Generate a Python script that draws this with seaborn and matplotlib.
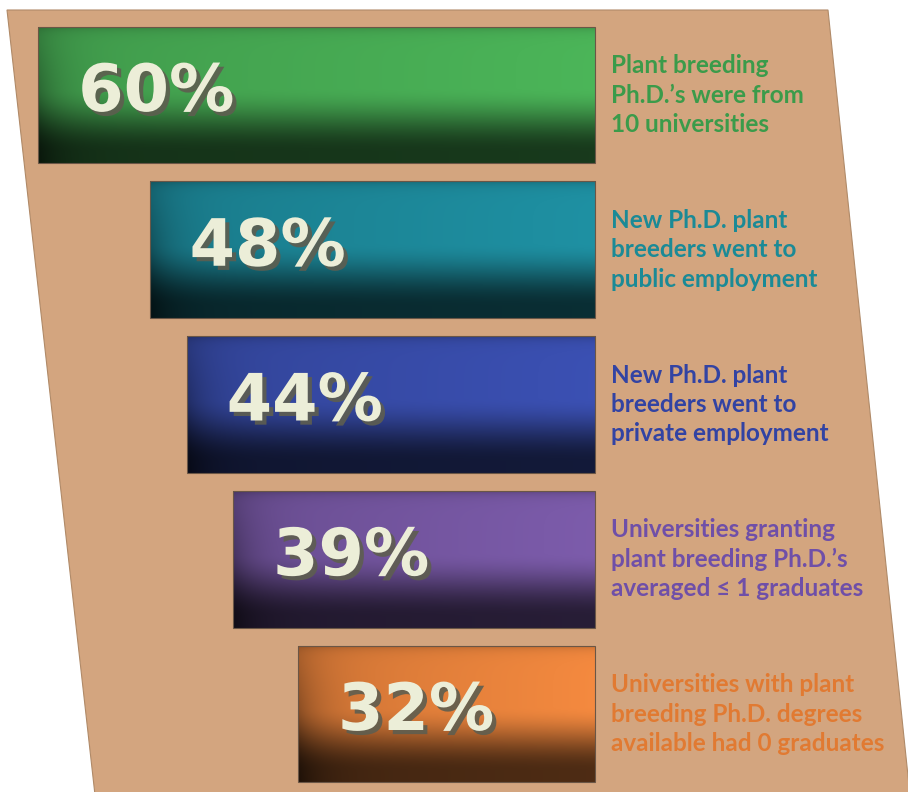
import numpy as np
import pandas as pd
import seaborn as sns
import matplotlib
matplotlib.use("Agg")
import matplotlib.pyplot as plt
from matplotlib.patches import Polygon
from matplotlib.colors import to_rgb
import matplotlib.patheffects as pe

# ---- data ----
categories = ["PhD from 10 universities", "Public employment", "Private employment",
              "Averaged <=1 graduates", "Had 0 graduates"]
values = [60, 48, 44, 39, 32]
pct_labels = ["60%", "48%", "44%", "39%", "32%"]
descriptions = [
    "Plant breeding\nPh.D.\u2019s were from\n10 universities",
    "New Ph.D. plant\nbreeders went to\npublic employment",
    "New Ph.D. plant\nbreeders went to\nprivate employment",
    "Universities granting\nplant breeding Ph.D.\u2019s\naveraged \u2264 1 graduates",
    "Universities with plant\nbreeding Ph.D. degrees\navailable had 0 graduates",
]
bar_colors = ["#4ab257", "#1e8ea0", "#3a4fb0", "#7a5aa8", "#f0873e"]
text_colors = ["#3b9b4a", "#1b8a96", "#3243a3", "#6f4fa8", "#e17a32"]

df = pd.DataFrame({"category": categories, "value": values})

sns.set_theme(style="white")
plt.rcParams["font.family"] = ["Lato", "DejaVu Sans"]

W_PX, H_PX = 908, 792
fig = plt.figure(figsize=(W_PX / 100, H_PX / 100), dpi=100)
fig.patch.set_facecolor("white")
ax = fig.add_axes([0, 0, 1, 1])
ax.set_facecolor("white")

sns.barplot(data=df, x="value", y="category", hue="category", palette=bar_colors,
            orient="h", width=0.885, saturation=1, legend=False, ax=ax, zorder=2)

PX_PER_UNIT = 9.28
X0_PX = 595
ROW_PX = 154.75
Y0_PX = 95


def set_limits():
    ax.set_xlim(X0_PX / PX_PER_UNIT, (X0_PX - W_PX) / PX_PER_UNIT)
    ax.set_ylim((H_PX - Y0_PX) / ROW_PX, -Y0_PX / ROW_PX)


set_limits()
ax.axis("off")

# background parallelogram (decoration)
pts = [(7, 10), (828, 10), (910, 795), (95, 795)]
poly = Polygon([(x / W_PX, 1 - y / H_PX) for x, y in pts], closed=True,
               transform=ax.transAxes, facecolor="#d3a57f", edgecolor="#b08a68",
               linewidth=0.8, zorder=0)
ax.add_patch(poly)


def smooth(a, b, t):
    t = np.clip((t - a) / (b - a), 0, 1)
    return t * t * (3 - 2 * t)


for patch, base in zip(ax.patches[:len(values)], bar_colors):
    x0 = patch.get_x(); w = patch.get_width()
    y0 = patch.get_y(); h = patch.get_height()
    Hh = 137
    Ww = max(int(round(abs(w) * PX_PER_UNIT)), 2)
    yy = np.linspace(0, 1, Hh)[:, None]
    xx = np.arange(Ww)[None, :].astype(float)
    f = 1 - 0.68 * smooth(0.45, 0.92, yy)
    f = f * (1 - 0.55 * np.exp(-xx / 26.0) * (0.3 + 0.7 * yy))
    f = f * (1 - 0.2 * np.exp(-yy * Hh / 5.0))
    f = f * (0.88 + 0.14 * xx / Ww)
    rgb = np.clip(np.array(to_rgb(base))[None, None, :] * f[:, :, None], 0, 1)
    left, right = x0 + w, x0
    im = ax.imshow(rgb, extent=(max(left, right), min(left, right), y0 + h, y0),
                   origin="upper", aspect="auto", zorder=2.5, interpolation="bilinear")
    im.set_clip_path(patch)
    patch.set_facecolor("none")
    patch.set_edgecolor("#6a5646")
    patch.set_linewidth(0.8)
    patch.set_zorder(3)

set_limits()

for i, (val, lbl, desc, tc) in enumerate(zip(values, pct_labels, descriptions, text_colors)):
    ax.annotate(lbl, xy=(val, i), xytext=(40, 2), textcoords="offset pixels",
                ha="left", va="center", fontsize=47, fontweight="bold",
                family=["DejaVu Sans"], color="#eceed8", zorder=5,
                path_effects=[pe.withSimplePatchShadow(offset=(3, -3),
                                                       shadow_rgbFace="#5e5e50", alpha=0.9)])
    ax.annotate(desc, xy=(0, i), xytext=(16, 0), textcoords="offset pixels",
                ha="left", va="center", fontsize=17.5, fontweight="bold",
                family=["Lato", "DejaVu Sans"], color=tc, linespacing=1.34, zorder=5)

fig.savefig("out.png", dpi=100)
